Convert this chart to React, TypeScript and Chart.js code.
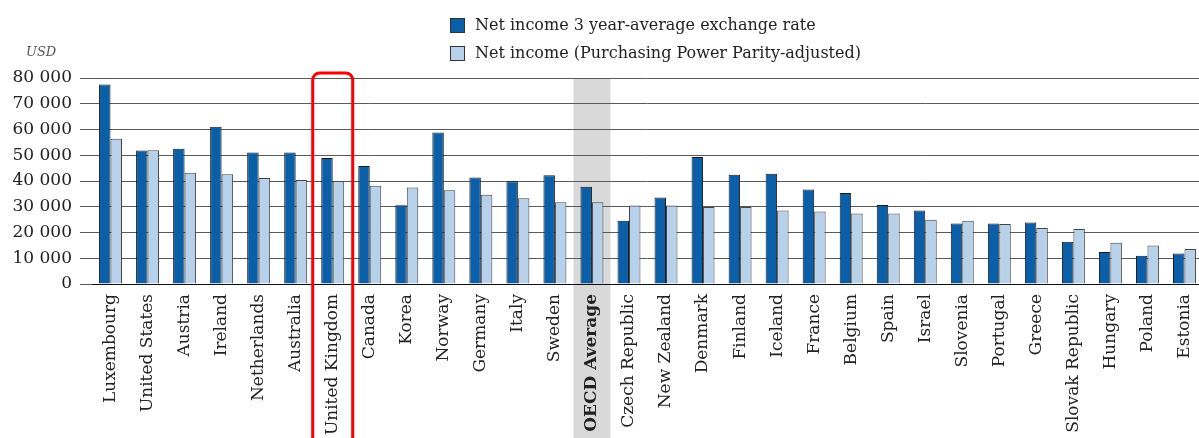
import React, { useEffect, useRef } from "react";
import { Chart, registerables } from "chart.js";

Chart.register(...registerables);

const categories = [
  "Luxembourg", "United States", "Austria", "Ireland", "Netherlands", "Australia",
  "United Kingdom", "Canada", "Korea", "Norway", "Germany", "Italy", "Sweden",
  "OECD Average", "Czech Republic", "New Zealand", "Denmark", "Finland", "Iceland",
  "France", "Belgium", "Spain", "Israel", "Slovenia", "Portugal", "Greece",
  "Slovak Republic", "Hungary", "Poland", "Estonia",
];

const exchangeRateIncome = [
  77500, 51800, 52500, 61100, 51100, 51100, 48900, 45800, 30600, 58800, 41400, 39900, 42200,
  37800, 24600, 33600, 49300, 42400, 42800, 36700, 35300, 30700, 28500, 23500, 23500, 23900,
  16400, 12400, 11000, 11800,
];

const pppIncome = [
  56400, 51900, 43200, 42600, 41200, 40400, 39900, 38200, 37500, 36400, 34700, 33300, 31700,
  31700, 30500, 30500, 29900, 29900, 28500, 28200, 27400, 27400, 25000, 24600, 23300, 21700,
  21400, 16000, 15000, 13600,
];

const seriesLabels = [
  "Net income 3 year-average exchange rate",
  "Net income (Purchasing Power Parity-adjusted)",
];

const unitLabel = "USD";
const highlightedAverage = "OECD Average";
const highlightedCountry = "United Kingdom";

const FONT = "'DejaVu Serif', serif";

const fmt = (v: number) => String(v).replace(/\B(?=(\d{3})+(?!\d))/g, " ");

export default function App() {
  const ref = useRef<HTMLCanvasElement | null>(null);

  useEffect(() => {
    if (!ref.current) return;
    const avgIdx = categories.indexOf(highlightedAverage);
    const ukIdx = categories.indexOf(highlightedCountry);

    const bandPlugin = {
      id: "band",
      beforeDraw(chart: any) {
        const { ctx, chartArea, scales } = chart;
        const x = scales.x;
        const w = (chartArea.right - chartArea.left) / categories.length;
        const cx = x.getPixelForValue(avgIdx);
        ctx.save();
        ctx.fillStyle = "#d9d9d9";
        ctx.fillRect(cx - w / 2, chartArea.top, w, chart.height - chartArea.top);
        ctx.restore();
      },
    };

    const overlayPlugin = {
      id: "overlay",
      afterDraw(chart: any) {
        const { ctx, chartArea, scales } = chart;
        const x = scales.x;
        // red highlight box
        const cx = x.getPixelForValue(ukIdx);
        ctx.save();
        ctx.strokeStyle = "#ff0000";
        ctx.lineWidth = 3;
        ctx.beginPath();
        (ctx as any).roundRect(cx - 20, chartArea.top - 5, 40, chart.height, 7);
        ctx.stroke();
        ctx.restore();

        // legend
        ctx.save();
        chart.data.datasets.forEach((ds: any, i: number) => {
          const y = 18 + i * 28;
          ctx.fillStyle = ds.backgroundColor;
          ctx.fillRect(450.5, y + 0.5, 14, 14);
          ctx.strokeStyle = "#333";
          ctx.lineWidth = 1;
          ctx.strokeRect(450.5, y + 0.5, 14, 14);
          ctx.fillStyle = "#222";
          ctx.font = `16px ${FONT}`;
          ctx.textBaseline = "middle";
          ctx.textAlign = "left";
          ctx.fillText(ds.label, 475, y + 8);
        });
        // unit
        ctx.fillStyle = "#555";
        ctx.font = `italic 13px ${FONT}`;
        ctx.textBaseline = "middle";
        ctx.fillText(unitLabel, 26, 53);
        ctx.restore();
      },
    };

    const chart = new Chart(ref.current, {
      type: "bar",
      data: {
        labels: categories,
        datasets: [
          {
            label: seriesLabels[0],
            data: exchangeRateIncome,
            backgroundColor: "#0b5fa8",
            borderColor: "#1a1a1a",
            borderWidth: 1,
          },
          {
            label: seriesLabels[1],
            data: pppIncome,
            backgroundColor: "#b7d1ea",
            borderColor: "#444",
            borderWidth: 1,
          },
        ],
      },
      options: {
        animation: false,
        responsive: false,
        devicePixelRatio: 1,
        layout: { padding: { top: 78, left: 0, right: 0, bottom: 0 } },
        datasets: { bar: { categoryPercentage: 0.62, barPercentage: 1 } },
        plugins: {
          legend: { display: false },
          tooltip: { enabled: false },
        },
        scales: {
          x: {
            offset: true,
            grid: { display: false, drawTicks: false },
            border: { display: true, color: "#111", width: 1 },
            ticks: {
              autoSkip: false,
              maxRotation: 90,
              minRotation: 90,
              padding: 10,
              color: "#222",
              font: (c: any) => ({
                family: FONT,
                size: 17,
                weight: c.index === avgIdx ? "bold" : "normal",
              }),
            },
            afterFit(scale: any) {
              scale.height = 154;
              scale.paddingLeft = 0;
              scale.paddingRight = 0;
            },
          },
          y: {
            min: 0,
            max: 80000,
            grid: {
              color: "#5a5a5a",
              lineWidth: 1,
              drawTicks: true,
              tickLength: 12,
              tickColor: "#5a5a5a",
            },
            border: { display: false },
            ticks: {
              stepSize: 10000,
              padding: 8,
              color: "#222",
              font: { family: FONT, size: 17 },
              callback: (v: any) => fmt(Number(v)),
            },
            afterFit(scale: any) {
              scale.width = 92;
              scale.paddingTop = 0;
              scale.paddingBottom = 0;
            },
          },
        },
      },
      plugins: [bandPlugin, overlayPlugin],
    });
    return () => chart.destroy();
  }, []);

  return (
    <div
      style={{
        position: "fixed",
        left: 0,
        top: 0,
        width: 1199,
        height: 438,
        overflow: "hidden",
        background: "#fff",
      }}
    >
      <canvas ref={ref} width={1203} height={438} style={{ display: "block" }} />
    </div>
  );
}
